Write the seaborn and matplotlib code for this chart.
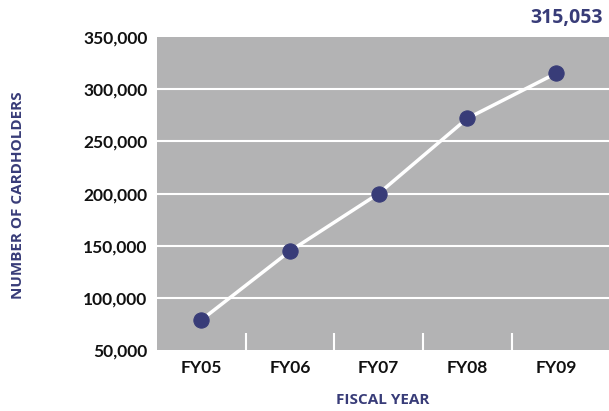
import matplotlib.pyplot as plt
import seaborn as sns
import pandas as pd

sns.set_style("white")
plt.rcParams["font.family"] = ["Lato", "DejaVu Sans"]

# ======================
# DATA
# ======================
years = ["FY05", "FY06", "FY07", "FY08", "FY09"]
cardholders = [79000, 145000, 200000, 272000, 315053]
y_ticks = [50000, 100000, 150000, 200000, 250000, 300000, 350000]

df = pd.DataFrame({"Year": years, "Cardholders": cardholders})

navy = "#383c78"
gray = "#b3b3b4"
label_font = ["Open Sans", "DejaVu Sans"]

# ======================
# PLOTTING
# ======================
fig = plt.figure(figsize=(6.09, 4.11), dpi=100)
ax = fig.add_axes([0.258, 0.148, 0.742, 0.762])
ax.set_facecolor(gray)

sns.lineplot(
    data=df,
    x="Year",
    y="Cardholders",
    color="white",
    linewidth=2.5,
    marker="o",
    markersize=11,
    markerfacecolor=navy,
    markeredgecolor=navy,
    ax=ax,
)

ax.set_ylim(50000, 350000)
ax.set_xlim(-0.5, 4.6)
ax.set_yticks(y_ticks)
ax.set_yticklabels([f"{v:,}" for v in y_ticks])

for v in y_ticks[1:-1]:
    ax.axhline(v, color="white", linewidth=1.5, zorder=0.5)

for s in ax.spines.values():
    s.set_visible(False)

ax.set_xticks([0.5, 1.5, 2.5, 3.5], minor=True)
ax.tick_params(axis="x", which="minor", direction="in", length=12, width=1.5,
               color="white", bottom=True)
ax.tick_params(axis="both", which="major", length=0, labelsize=12.5, pad=7)
for lbl in ax.get_xticklabels() + ax.get_yticklabels():
    lbl.set_fontweight("bold")
    lbl.set_color("#111111")

ax.set_xlabel("FISCAL YEAR", fontsize=11, fontweight="bold", color=navy,
              labelpad=12, family=label_font)
ax.set_ylabel("")
fig.text(0.03, 0.525, "NUMBER OF CARDHOLDERS", rotation=90, ha="center", va="center",
         fontsize=11, fontweight="bold", color=navy, family=label_font)

fig.text(0.99, 0.957, "315,053", ha="right", va="center", fontsize=14,
         fontweight="bold", color=navy, family=label_font)

# ======================
# SAVE
# ======================
plt.savefig("out.png", dpi=100)
plt.close()
